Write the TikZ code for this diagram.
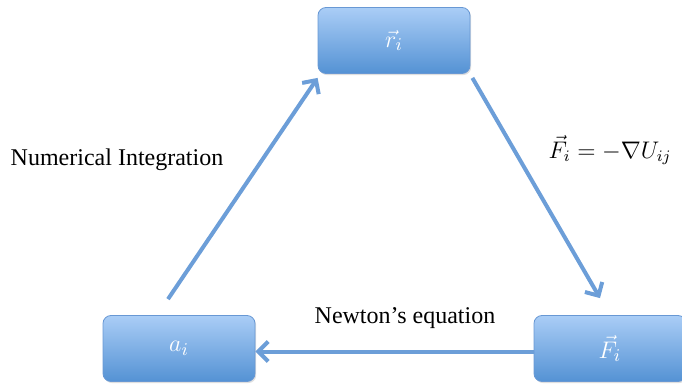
\documentclass[tikz,border=0pt]{standalone}
\usepackage{amsmath}
\usepackage{fontspec}
\setmainfont{Liberation Serif}
\usetikzlibrary{arrows.meta, positioning, shadows}
\definecolor{mdblue}{RGB}{84,146,212}
\definecolor{mdlight}{RGB}{170,205,246}
\definecolor{mdedge}{RGB}{104,152,212}
\definecolor{mdarrow}{RGB}{108,158,216}
\tikzset{
    statebox/.style={draw=mdedge, rounded corners=4pt, top color=mdlight, bottom color=mdblue, minimum width=76pt, minimum height=33pt, text=white, font=\fontsize{13}{15}\selectfont, drop shadow={opacity=0.25, shadow xshift=0.6pt, shadow yshift=-0.8pt}},
    standardarrow/.style={-{Straight Barb[length=5pt, width=10pt, line width=2pt]}, line width=2pt, draw=mdarrow},
    note/.style={font=\fontsize{12}{14}\selectfont, align=center}
}
\begin{document}
\begin{tikzpicture}[x=0.5pt,y=-0.5pt]
            \useasboundingbox (0,0) rectangle (682,386);
            \node[statebox] (ri) at (394,40.5) {$\vec{r}_i$};
            \node[statebox] (ai) at (179,348.5) {$a_i$};
            \node[statebox] (Fi) at (610,348.5) {$\vec{F}_i$};
            \draw[standardarrow] ([xshift=-5.5pt,yshift=8pt]ai.north) -- ([xshift=0pt,yshift=-2pt]ri.south west);
            \draw[standardarrow] ([xshift=1pt,yshift=-2pt]ri.south east) -- ([xshift=-5pt,yshift=8.5pt]Fi.north);
            \draw[standardarrow] ([yshift=-1.5pt]Fi.west) -- ([yshift=-1.5pt]ai.east);
            \node[note] (integ) at (117,160) {Numerical Integration};
            \node[note] (grad) at (610,150) {$\vec{F}_i = -\nabla U_{ij}$};
            \node[note] (newton) at (405,318) {Newton’s equation};
        \end{tikzpicture}
\end{document}
